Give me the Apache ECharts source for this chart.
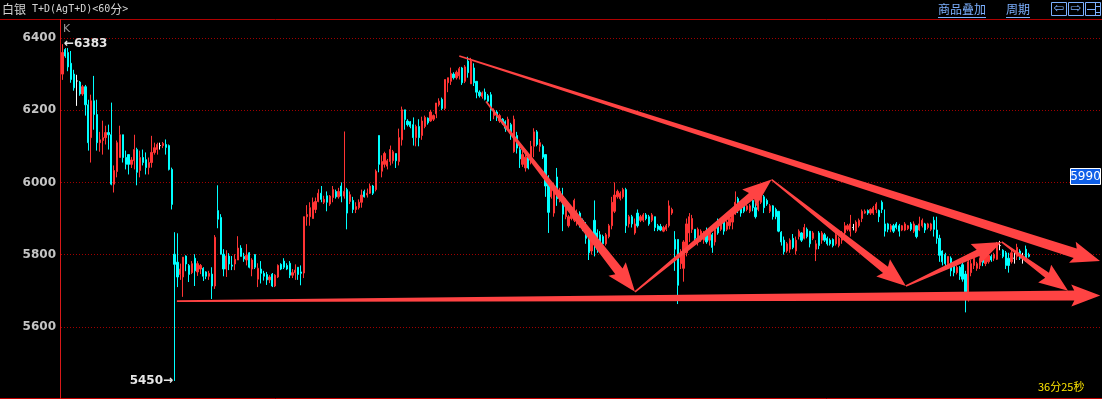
<!DOCTYPE html>
<html>
<head>
<meta charset="utf-8">
<title>白银 T+D(AgT+D) 60分</title>
<script src="https://cdn.jsdelivr.net/npm/echarts@6/dist/echarts.min.js"></script>
<style>
html, body { margin: 0; padding: 0; background: #000; }
#main { width: 1102px; height: 399px; }
</style>
</head>
<body>
<div id="main"></div>
<script>
// K线格子数(含右侧空白)
var slotCount = 362;
var categories = [];
for (var i = 0; i < slotCount; i++) {
    categories.push(i);
}

// 价格刻度
var priceTicks = [5600, 5800, 6000, 6200, 6400];

// 60分K线: [开, 收, 低, 高]
var candles = [
    [6300,6360,6284,6383],[6368,6350,6345,6372],[6360,6320,6308,6372],[6330,6285,6276,6364],[6300,6262,6254,6312],
    [6281,6281,6212,6298],[6278,6245,6240,6281],[6245,6265,6240,6270],[6265,6215,6185,6270],[6215,6110,6088,6229],
    [6124,6226,6055,6243],[6226,6188,6146,6295],[6188,6110,6088,6229],[6110,6118,6085,6140],[6116,6124,6077,6171],
    [6124,6138,6105,6157],[6138,6132,6091,6160],[6132,5995,5992,6221],[5995,6033,5972,6047],[6030,6110,6014,6116],
    [6069,6132,6069,6157],[6132,6069,6055,6132],[6069,6050,6036,6088],[6077,6050,6022,6077],[6050,6062,6040,6070],
    [6060,6091,6036,6132],[6091,6028,5992,6096],[6033,6069,6014,6088],[6069,6055,6047,6091],[6063,6041,6022,6083],
    [6041,6055,6022,6069],[6055,6083,6041,6129],[6083,6096,6077,6110],[6091,6105,6077,6110],[6102,6102,6091,6110],
    [6102,6108,6095,6112],[6105,6097,6077,6119],[6102,6036,6033,6105],[6036,5939,5925,6041],[5801,5773,5450,5862],
    [5779,5738,5710,5859],[5745,5760,5730,5775],[5738,5793,5683,5793],[5796,5774,5754,5798],[5770,5745,5724,5774],
    [5750,5775,5746,5782],[5790,5755,5713,5801],[5752,5775,5741,5782],[5760,5770,5746,5774],[5762,5740,5727,5765],
    [5752,5740,5732,5754],[5740,5748,5730,5755],[5746,5713,5677,5765],[5713,5848,5705,5854],[5922,5898,5873,5992],
    [5903,5801,5801,5912],[5801,5760,5740,5815],[5760,5796,5738,5812],[5796,5774,5757,5804],[5771,5768,5757,5796],
    [5774,5787,5757,5801],[5785,5818,5785,5851],[5818,5795,5795,5826],[5795,5788,5780,5805],[5785,5798,5770,5829],
    [5805,5765,5762,5807],[5760,5785,5740,5790],[5800,5765,5760,5801],[5732,5762,5710,5776],[5760,5748,5720,5782],
    [5748,5740,5728,5755],[5745,5730,5716,5752],[5730,5738,5721,5743],[5746,5713,5710,5749],[5713,5743,5710,5746],
    [5738,5770,5735,5773],[5773,5760,5757,5776],[5782,5765,5760,5790],[5770,5760,5757,5776],[5776,5743,5735,5782],
    [5743,5750,5735,5760],[5750,5757,5730,5773],[5765,5745,5730,5765],[5752,5748,5715,5770],[5749,5905,5735,5905],
    [5905,5911,5880,5937],[5905,5930,5880,5945],[5900,5945,5900,5958],[5925,5947,5915,5958],[5947,5970,5945,5981],
    [5970,5953,5945,5990],[5945,5953,5940,5963],[5963,5945,5920,5975],[5940,5962,5935,5965],[5958,5980,5945,5990],
    [5975,5960,5955,5980],[5960,5975,5955,5985],[5990,5962,5945,6000],[5962,5975,5955,6141],[5980,5915,5870,5985],
    [5947,5966,5940,5975],[5950,5925,5915,5960],[5925,5933,5915,5945],[5930,5945,5925,5953],[5945,5965,5930,5980],
    [5975,5960,5958,5980],[5965,5970,5958,5983],[5970,5990,5968,5997],[5990,5970,5965,5993],[5980,6031,5975,6036],
    [6130,6050,6028,6130],[6031,6058,6014,6075],[6050,6080,6041,6085],[6045,6060,6036,6065],[6058,6091,6047,6102],
    [6060,6085,6052,6090],[6080,6060,6040,6080],[6058,6124,6047,6149],[6118,6201,6102,6210],[6201,6174,6146,6201],
    [6170,6160,6155,6175],[6168,6155,6150,6170],[6160,6124,6102,6180],[6124,6155,6100,6160],[6155,6124,6100,6175],
    [6130,6170,6118,6182],[6155,6180,6150,6185],[6178,6165,6160,6180],[6170,6195,6168,6201],[6175,6185,6170,6188],
    [6190,6220,6178,6220],[6215,6225,6210,6233],[6230,6205,6200,6235],[6205,6285,6200,6285],[6276,6290,6250,6290],
    [6280,6302,6270,6318],[6300,6290,6285,6305],[6290,6305,6285,6310],[6295,6315,6285,6320],[6317,6276,6270,6320],
    [6280,6320,6275,6325],[6336,6304,6290,6348],[6273,6336,6273,6345],[6317,6276,6267,6330],[6280,6250,6233,6280],
    [6250,6240,6235,6255],[6238,6248,6232,6252],[6250,6230,6227,6260],[6240,6225,6218,6245],[6243,6200,6170,6250],
    [6185,6200,6175,6205],[6195,6180,6170,6200],[6170,6185,6165,6190],[6175,6165,6160,6178],[6168,6150,6140,6172],
    [6150,6175,6146,6182],[6160,6130,6118,6165],[6085,6175,6082,6185],[6130,6095,6080,6140],[6091,6065,6040,6110],
    [6050,6077,6043,6100],[6040,6070,6030,6077],[6075,6040,6036,6080],[6063,6100,6050,6115],[6100,6140,6070,6150],
    [6140,6105,6100,6145],[6100,6110,6085,6120],[6100,6070,6065,6105],[6077,5990,5960,6077],[6000,5917,5860,6020],
    [5960,5990,5955,5995],[5915,5990,5905,5998],[6015,5955,5935,6040],[5950,5975,5945,5985],[5960,5912,5865,5985],
    [5905,5945,5898,5955],[5880,5905,5875,5910],[5900,5920,5895,5925],[5895,5950,5890,5955],[5885,5915,5880,5925],
    [5915,5885,5875,5920],[5895,5870,5865,5900],[5875,5845,5830,5890],[5860,5805,5785,5870],[5810,5850,5800,5865],
    [5895,5840,5795,5950],[5860,5815,5805,5870],[5855,5835,5830,5865],[5850,5830,5825,5855],[5830,5855,5825,5860],
    [5850,5880,5845,5885],[5880,5945,5870,5960],[5920,5965,5915,6000],[5960,5975,5955,5980],[5955,5970,5950,5975],
    [5960,5980,5955,5985],[5980,5880,5860,5985],[5885,5905,5875,5910],[5905,5885,5875,5910],[5860,5885,5855,5900],
    [5915,5880,5875,5925],[5895,5905,5890,5910],[5895,5910,5890,5915],[5910,5900,5895,5915],[5905,5885,5880,5910],
    [5895,5910,5890,5915],[5905,5875,5865,5905],[5880,5870,5865,5885],[5878,5868,5865,5885],[5865,5875,5862,5880],
    [5870,5880,5865,5885],[5880,5935,5875,5950],[5915,5925,5910,5930],[5842,5815,5755,5865],[5842,5715,5663,5842],
    [5775,5800,5760,5815],[5762,5835,5725,5840],[5805,5885,5795,5900],[5860,5905,5835,5915],[5870,5900,5860,5910],
    [5870,5845,5835,5870],[5840,5870,5825,5875],[5845,5865,5835,5870],[5840,5860,5830,5865],[5865,5835,5830,5875],
    [5840,5860,5825,5870],[5855,5820,5805,5860],[5835,5870,5825,5880],[5890,5860,5855,5900],[5870,5885,5865,5890],
    [5890,5865,5855,5898],[5870,5890,5865,5895],[5880,5900,5870,5905],[5890,5920,5870,5925],[5925,5945,5910,5975],
    [5955,5925,5915,5960],[5930,5915,5905,5935],[5935,5920,5915,5940],[5925,5935,5920,5940],[5920,5935,5915,5940],
    [5950,5930,5920,5955],[5930,5905,5900,5945],[5925,5940,5920,5945],[5945,5965,5940,5975],[5960,5930,5915,5965],
    [5950,5940,5935,5955],[5920,5935,5915,5940],[5935,5905,5897,5937],[5925,5905,5898,5930],[5920,5865,5862,5920],
    [5862,5835,5825,5865],[5840,5808,5800,5850],[5810,5830,5805,5835],[5815,5840,5805,5845],[5845,5820,5815,5857],
    [5810,5840,5800,5850],[5850,5865,5842,5870],[5860,5840,5835,5862],[5845,5875,5842,5885],[5870,5850,5845,5875],
    [5865,5830,5820,5865],[5845,5860,5840,5865],[5815,5830,5782,5840],[5860,5825,5815,5865],[5840,5860,5830,5865],
    [5855,5840,5835,5860],[5845,5830,5825,5850],[5840,5830,5825,5845],[5842,5825,5820,5845],[5830,5855,5825,5862],
    [5825,5845,5820,5850],[5840,5860,5830,5865],[5860,5880,5850,5890],[5870,5880,5865,5885],[5865,5885,5850,5910],
    [5875,5875,5867,5885],[5865,5890,5860,5895],[5880,5895,5875,5900],[5900,5920,5890,5925],[5915,5920,5913,5925],
    [5922,5915,5910,5925],[5915,5925,5910,5928],[5915,5930,5910,5935],[5925,5940,5915,5945],[5922,5905,5890,5925],
    [5945,5925,5915,5950],[5885,5865,5850,5925],[5885,5870,5862,5888],[5870,5880,5862,5885],[5880,5865,5860,5885],
    [5885,5875,5870,5890],[5880,5865,5850,5885],[5868,5880,5865,5882],[5868,5885,5865,5890],[5872,5880,5868,5882],
    [5885,5870,5865,5890],[5865,5885,5860,5892],[5880,5850,5845,5880],[5868,5885,5865,5905],[5880,5895,5875,5900],
    [5885,5868,5860,5888],[5875,5885,5870,5888],[5870,5885,5865,5888],[5895,5870,5850,5905],[5868,5845,5830,5905],
    [5845,5798,5780,5855],[5810,5780,5770,5812],[5800,5775,5765,5805],[5775,5795,5760,5795],[5790,5755,5740,5795],
    [5770,5750,5740,5775],[5750,5765,5745,5770],[5765,5740,5730,5768],[5772,5732,5725,5785],[5746,5697,5640,5755],
    [5697,5780,5670,5790],[5750,5775,5740,5785],[5770,5790,5760,5795],[5762,5775,5755,5780],[5770,5785,5760,5790],
    [5798,5778,5768,5802],[5775,5795,5768,5800],[5780,5798,5775,5800],[5795,5785,5780,5800],[5790,5800,5782,5805],
    [5787,5830,5785,5835],[5825,5825,5812,5838],[5812,5795,5790,5815],[5805,5770,5760,5810],[5790,5770,5750,5805],
    [5780,5805,5775,5815],[5790,5790,5775,5810],[5795,5820,5785,5830],[5810,5790,5785,5815],[5795,5795,5775,5805],
    [5815,5790,5780,5825],[5800,5795,5792,5805]
];

// 画线: [起点序号, 起点价, 终点序号, 终点价]
var arrowLines = [
    [138.0, 6350, 360.8, 5782], // 上方压力线
    [39.8, 5671, 360.9, 5687],  // 下方支撑线
    [147.3, 6224, 199.1, 5697],
    [199.1, 5697, 246.6, 6008],
    [246.6, 6008, 293.3, 5713],
    [293.3, 5713, 326.6, 5835],
    [326.6, 5835, 349.7, 5700]
];

// 右侧价格标签
var tagPrice = [[slotCount - 0.5, 5990]];

var upColor = '#ff3434';
var downColor = '#00ffff';
var lineRed = '#ff4343';
var linkBlue = '#7cb0ff';

// 粗细渐变的箭头
function renderArrow(params, api) {
    var p0 = api.coord([api.value(0), api.value(1)]);
    var p1 = api.coord([api.value(2), api.value(3)]);
    var dx = p1[0] - p0[0], dy = p1[1] - p0[1];
    var len = Math.sqrt(dx * dx + dy * dy);
    var ux = dx / len, uy = dy / len;
    var nx = -uy, ny = ux;
    var headLen = 26, headHalf = 11;
    var w0 = 0.8;
    var w1 = Math.min(5, 2.4 + len / 110);
    var bx = p1[0] - ux * headLen, by = p1[1] - uy * headLen;
    var pts = [
        [p0[0] + nx * w0, p0[1] + ny * w0],
        [bx + nx * w1, by + ny * w1],
        [bx + nx * headHalf - ux * 3, by + ny * headHalf - uy * 3],
        [p1[0], p1[1]],
        [bx - nx * headHalf - ux * 3, by - ny * headHalf - uy * 3],
        [bx - nx * w1, by - ny * w1],
        [p0[0] - nx * w0, p0[1] - ny * w0]
    ];
    return {
        type: 'polygon',
        shape: { points: pts },
        style: { fill: lineRed }
    };
}

function renderTag(params, api) {
    var pt = api.coord([api.value(0), api.value(1)]);
    return {
        type: 'group',
        children: [{
            type: 'rect',
            shape: { x: pt[0] - 31.5, y: pt[1] - 17.5, width: 30, height: 16 },
            style: { fill: '#0f5fe8', stroke: '#ffffff', lineWidth: 1 }
        }, {
            type: 'text',
            x: pt[0] - 16.5,
            y: pt[1] - 9.5,
            style: {
                text: String(api.value(1)),
                fill: '#ffffff',
                font: '12px "DejaVu Sans"',
                align: 'center',
                verticalAlign: 'middle'
            }
        }]
    };
}

var myChart = echarts.init(document.getElementById('main'), null, { renderer: 'canvas' });

var option = {
    backgroundColor: '#000000',
    animation: false,
    grid: {
        left: 61,
        top: 38,
        width: 1041,
        height: 362.5
    },
    xAxis: [{
        type: 'category',
        data: categories,
        boundaryGap: true,
        show: false
    }, {
        type: 'value',
        min: -0.5,
        max: slotCount - 0.5,
        show: false
    }],
    yAxis: {
        type: 'value',
        min: 5400,
        max: 6400,
        interval: 200,
        axisLine: { show: false },
        axisTick: { show: false },
        axisLabel: {
            color: '#c4c4c4',
            fontWeight: 'bold',
            fontSize: 12,
            fontFamily: 'DejaVu Sans',
            margin: 5,
            formatter: function(v) {
                return priceTicks.indexOf(v) >= 0 ? String(v) : '';
            }
        },
        splitLine: {
            lineStyle: { color: '#a00000', width: 1, type: [1, 2] }
        }
    },
    series: [{
        name: 'K',
        type: 'candlestick',
        xAxisIndex: 0,
        yAxisIndex: 0,
        data: candles,
        barWidth: 1.7,
        itemStyle: {
            color: upColor,
            color0: downColor,
            borderColor: upColor,
            borderColor0: downColor,
            borderColorDoji: '#ffffff',
            borderWidth: 1
        },
        markPoint: {
            symbol: 'circle',
            symbolSize: 1,
            itemStyle: { color: 'rgba(0,0,0,0)' },
            label: {
                color: '#e6e6e6',
                fontWeight: 'bold',
                fontSize: 12,
                fontFamily: 'DejaVu Sans'
            },
            data: [{
                type: 'max',
                valueDim: 'highest',
                label: {
                    position: 'right',
                    distance: 1,
                    formatter: function(p) { return '←' + p.value; }
                }
            }, {
                type: 'min',
                valueDim: 'lowest',
                label: {
                    position: 'left',
                    distance: 1,
                    formatter: function(p) { return p.value + '→'; }
                }
            }]
        }
    }, {
        name: '画线',
        type: 'custom',
        xAxisIndex: 1,
        yAxisIndex: 0,
        renderItem: renderArrow,
        data: arrowLines,
        silent: true,
        z: 5
    }, {
        name: '价格',
        type: 'custom',
        xAxisIndex: 1,
        yAxisIndex: 0,
        renderItem: renderTag,
        data: tagPrice,
        silent: true,
        z: 6
    }],
    graphic: [
        // 顶部与底部分隔线、左侧坐标线
        { type: 'line', shape: { x1: 0, y1: 19.5, x2: 1102, y2: 19.5 }, style: { stroke: '#b00000', lineWidth: 1 } },
        { type: 'line', shape: { x1: 0, y1: 398.5, x2: 1102, y2: 398.5 }, style: { stroke: '#c00000', lineWidth: 1 } },
        { type: 'line', shape: { x1: 60.5, y1: 19, x2: 60.5, y2: 399 }, style: { stroke: '#d81818', lineWidth: 1 } },
        {
            type: 'text', left: 2, top: 3,
            style: {
                text: '{c|白银}{l| T+D(AgT+D)<60}{c|分}{l|>}',
                rich: {
                    c: { fontSize: 12, fontFamily: 'Noto Sans CJK SC', fill: '#d4d4d4' },
                    l: { fontSize: 10, fontFamily: 'DejaVu Sans Mono', fill: '#d4d4d4' }
                }
            }
        },
        { type: 'text', left: 63, top: 24, style: { text: 'K', fill: '#9a9a9a', font: '11px "DejaVu Sans"' } },
        { type: 'text', left: 938, top: 3, style: { text: '商品叠加', fill: linkBlue, font: '12px "Noto Sans CJK SC"' } },
        { type: 'line', shape: { x1: 938, y1: 17.5, x2: 986, y2: 17.5 }, style: { stroke: linkBlue, lineWidth: 1 } },
        { type: 'text', left: 1006, top: 3, style: { text: '周期', fill: linkBlue, font: '12px "Noto Sans CJK SC"' } },
        { type: 'line', shape: { x1: 1006, y1: 17.5, x2: 1030, y2: 17.5 }, style: { stroke: linkBlue, lineWidth: 1 } },
        { type: 'rect', shape: { x: 1051.5, y: 2.5, width: 15, height: 13 }, style: { fill: 'none', stroke: linkBlue, lineWidth: 1 } },
        { type: 'rect', shape: { x: 1068.5, y: 2.5, width: 15, height: 13 }, style: { fill: 'none', stroke: linkBlue, lineWidth: 1 } },
        { type: 'rect', shape: { x: 1085.5, y: 2.5, width: 15, height: 13 }, style: { fill: 'none', stroke: linkBlue, lineWidth: 1 } },
        { type: 'text', x: 1059, y: 9, style: { text: '⇦', fill: linkBlue, font: '13px "DejaVu Sans"', align: 'center', verticalAlign: 'middle' } },
        { type: 'text', x: 1076, y: 9, style: { text: '⇨', fill: linkBlue, font: '13px "DejaVu Sans"', align: 'center', verticalAlign: 'middle' } },
        { type: 'line', shape: { x1: 1095.5, y1: 3, x2: 1095.5, y2: 15 }, style: { stroke: linkBlue, lineWidth: 1 } },
        { type: 'line', shape: { x1: 1087, y1: 9.5, x2: 1095, y2: 9.5 }, style: { stroke: linkBlue, lineWidth: 1 } },
        { type: 'line', shape: { x1: 1096, y1: 6.5, x2: 1100, y2: 6.5 }, style: { stroke: linkBlue, lineWidth: 1 } },
        { type: 'line', shape: { x1: 1096, y1: 12.5, x2: 1100, y2: 12.5 }, style: { stroke: linkBlue, lineWidth: 1 } },
        { type: 'text', left: 1038, top: 381, style: { text: '36分25秒', fill: '#ffe600', font: '11px "Noto Sans CJK SC"' } }
    ]
};

myChart.setOption(option);
</script>
</body>
</html>
